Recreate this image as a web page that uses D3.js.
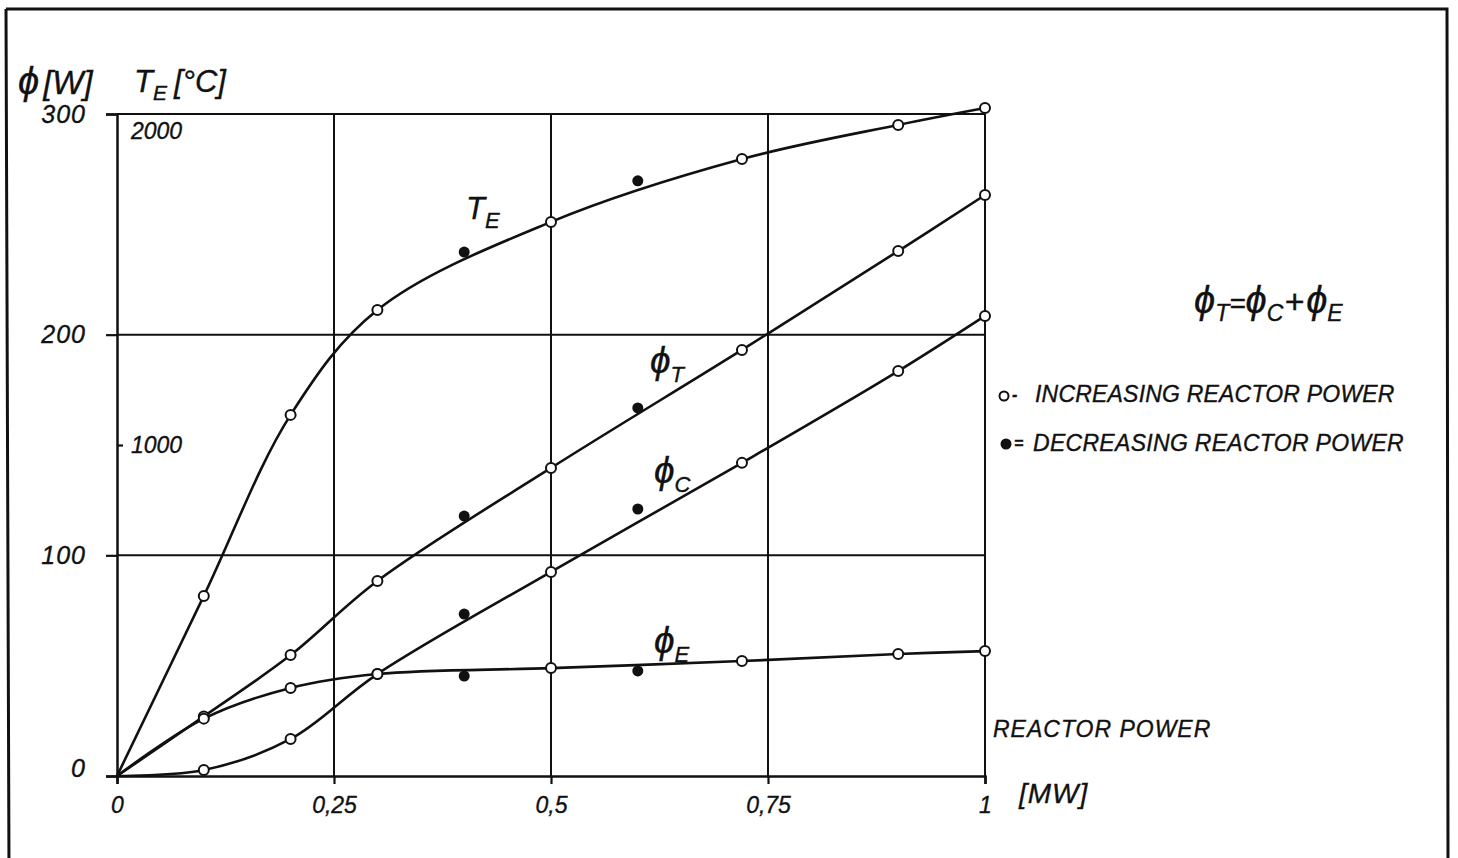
<!DOCTYPE html>
<html>
<head>
<meta charset="utf-8">
<script src="https://cdn.jsdelivr.net/npm/d3@7"></script>
<style>
  html, body { margin: 0; padding: 0; background: #fff; }
  svg { display: block; }
  text { font-family: "Liberation Sans", "DejaVu Sans", sans-serif; font-style: italic; fill: #111; stroke: #111; stroke-width: 0.35px; }
</style>
</head>
<body>
<svg id="chart" width="1458" height="858"></svg>
<script>
// ---------- data ----------
const xIncreasing = [0.1, 0.2, 0.3, 0.5, 0.72, 0.9, 1.0];
const teIncreasing   = [544, 1091, 1408, 1674, 1864, 1967, 2018];   // °C
const phiTIncreasing = [27, 54.8, 88.4, 139.6, 193.1, 237.9, 263.3]; // W
const phiCIncreasing = [2.7, 16.8, 46.2, 92.5, 141.9, 183.5, 208.5]; // W
const phiEIncreasing = [26, 39.9, 46.2, 48.9, 52.1, 55.3, 56.6];     // W

const xDecreasing = [0.4, 0.6];
const teDecreasing   = [1583, 1798];
const phiTDecreasing = [117.8, 166.8];
const phiCDecreasing = [73.4, 121.0];
const phiEDecreasing = [45.3, 47.6];

const xTicks = [0, 0.25, 0.5, 0.75, 1];
const xTickLabels = ["0", "0,25", "0,5", "0,75", "1"];
const wTicks = [0, 100, 200, 300];
const tTicks = [1000, 2000];

// ---------- scales ----------
const svg = d3.select("#chart");
const x = d3.scaleLinear().domain([0, 1]).range([117, 985]);
const yW = d3.scaleLinear().domain([0, 300]).range([776, 114]);
const yT = d3.scaleLinear().domain([0, 2000]).range([776, 114]);

// outer frame
svg.append("path")
  .attr("d", "M6,9 L1447,9 L1448,870 M6,9 L9,870")
  .attr("fill", "none").attr("stroke", "#111").attr("stroke-width", 3);

// ---------- grid ----------
const grid = svg.append("g").attr("stroke", "#111").attr("stroke-width", 2);
[0.25, 0.5, 0.75, 1].forEach(v => {
  grid.append("line").attr("x1", x(v)).attr("x2", x(v)).attr("y1", yW(0)).attr("y2", yW(300));
});
[100, 200, 300].forEach(v => {
  grid.append("line").attr("x1", x(0)).attr("x2", x(1)).attr("y1", yW(v)).attr("y2", yW(v));
});

// ---------- axes ----------
const xAxis = svg.append("g")
  .attr("transform", `translate(0,${yW(0)})`)
  .call(d3.axisBottom(x).tickValues(xTicks).tickSize(8).tickPadding(13)
        .tickFormat((d, i) => xTickLabels[i]));
const yAxis = svg.append("g")
  .attr("transform", `translate(${x(0)},0)`)
  .call(d3.axisLeft(yW).tickValues(wTicks).tickSize(11).tickPadding(20));
const tAxis = svg.append("g")
  .attr("transform", `translate(${x(0)},0)`)
  .call(d3.axisRight(yT).tickValues(tTicks).tickSize(6).tickPadding(8)
        .tickFormat(d3.format("d")));

[xAxis, yAxis, tAxis].forEach(g => {
  g.select(".domain").attr("stroke", "#111").attr("stroke-width", 2.5);
  g.selectAll(".tick line").attr("stroke", "#111").attr("stroke-width", 2.2);
  g.selectAll(".tick text").attr("fill", "#111")
    .style("font-size", "23px").style("font-style", "italic")
    .style("font-family", '"Liberation Sans", "DejaVu Sans", sans-serif');
});
yAxis.selectAll(".tick text").style("font-size", "25px").style("letter-spacing", "1px");
yAxis.selectAll(".tick").filter(d => d === 0).select("text").attr("y", -8);
tAxis.select(".domain").remove();
tAxis.selectAll(".tick").filter(d => d === 2000).select("line").remove();
tAxis.selectAll(".tick").filter(d => d === 2000).select("text").attr("dy", "0.32em").attr("y", 17).attr("x", 14);
xAxis.selectAll(".tick text").attr("dy", "0.71em");

// ---------- curves ----------
const curveType = d3.curveCatmullRom.alpha(0.5);
const lineW = d3.line().x(d => x(d[0])).y(d => yW(d[1])).curve(curveType);
const lineT = d3.line().x(d => x(d[0])).y(d => yT(d[1])).curve(curveType);

const seriesW = [phiTIncreasing, phiCIncreasing, phiEIncreasing];
const seriesWDec = [phiTDecreasing, phiCDecreasing, phiEDecreasing];

const curves = svg.append("g").attr("fill", "none").attr("stroke", "#111").attr("stroke-width", 2.6);
curves.append("path").attr("d", lineT([[0, 0]].concat(xIncreasing.map((v, i) => [v, teIncreasing[i]]))));
seriesW.forEach(s => {
  curves.append("path").attr("d", lineW([[0, 0]].concat(xIncreasing.map((v, i) => [v, s[i]]))));
});

// ---------- markers ----------
const marks = svg.append("g");
function openPts(vals, scale) {
  marks.selectAll(null).data(xIncreasing.map((v, i) => [v, vals[i]])).enter()
    .append("circle").attr("cx", d => x(d[0])).attr("cy", d => scale(d[1])).attr("r", 5)
    .attr("fill", "#fff").attr("stroke", "#111").attr("stroke-width", 2);
}
function filledPts(vals, scale) {
  marks.selectAll(null).data(xDecreasing.map((v, i) => [v, vals[i]])).enter()
    .append("circle").attr("cx", d => x(d[0])).attr("cy", d => scale(d[1])).attr("r", 5.5)
    .attr("fill", "#111");
}
openPts(teIncreasing, yT);
seriesW.forEach(s => openPts(s, yW));
filledPts(teDecreasing, yT);
seriesWDec.forEach(s => filledPts(s, yW));

// ---------- labels ----------
function symLabel(px, py, main, sub, mainSize, subSize, subDy) {
  const t = svg.append("text").attr("x", px).attr("y", py);
  t.append("tspan").text(main).style("font-size", mainSize + "px");
  t.append("tspan").text(sub).attr("dy", subDy).style("font-size", subSize + "px");
  return t;
}
// axis titles
const t1 = svg.append("text").attr("x", 18).attr("y", 94).style("font-size", "38px");
t1.append("tspan").text("ϕ");
t1.append("tspan").text("[W]").attr("dx", 4).style("font-size", "33px");
const t2 = svg.append("text").attr("x", 134).attr("y", 92).style("font-size", "31px");
t2.append("tspan").text("T");
t2.append("tspan").text("E").attr("dy", 8).style("font-size", "21px");
t2.append("tspan").text("[°C]").attr("dy", -8).attr("dx", 7).style("font-size", "31px");

// curve labels
symLabel(466, 219, "T", "E", 31, 22, 9);
symLabel(650, 373, "ϕ", "T", 37, 22, 9);
symLabel(654, 483, "ϕ", "C", 37, 22, 9);
symLabel(654, 653, "ϕ", "E", 37, 22, 9);

// formula
const f = svg.append("text").attr("x", 1194).attr("y", 313).style("font-size", "38px");
f.append("tspan").text("ϕ");
f.append("tspan").text("T").attr("dy", 8).style("font-size", "23px");
f.append("tspan").text("=").attr("dy", -8).style("font-size", "28px");
f.append("tspan").text("ϕ").style("font-size", "38px");
f.append("tspan").text("C").attr("dy", 8).style("font-size", "23px");
f.append("tspan").text("+").attr("dy", -8).attr("dx", 1).style("font-size", "34px");
f.append("tspan").text("ϕ").attr("dx", 2).style("font-size", "38px");
f.append("tspan").text("E").attr("dy", 8).style("font-size", "23px");

// legend
svg.append("circle").attr("cx", 1004).attr("cy", 396).attr("r", 4.5)
  .attr("fill", "#fff").attr("stroke", "#111").attr("stroke-width", 2);
svg.append("text").attr("x", 1012).attr("y", 400).style("font-size", "16px").style("font-weight", "bold").text("-");
svg.append("text").attr("x", 1035).attr("y", 402).style("font-size", "23px").style("letter-spacing", "0.2px").text("INCREASING REACTOR POWER");
svg.append("circle").attr("cx", 1006).attr("cy", 444).attr("r", 5.5).attr("fill", "#111");
svg.append("text").attr("x", 1014).attr("y", 449).style("font-size", "16px").style("font-weight", "bold").text("=");
svg.append("text").attr("x", 1033).attr("y", 451).style("font-size", "23px").style("letter-spacing", "0.3px").text("DECREASING REACTOR POWER");

svg.append("text").attr("x", 993).attr("y", 737).style("font-size", "23px").style("letter-spacing", "1px").text("REACTOR POWER");
svg.append("text").attr("x", 1019).attr("y", 803).style("font-size", "28px").style("letter-spacing", "1px").text("[MW]");
</script>
</body>
</html>
